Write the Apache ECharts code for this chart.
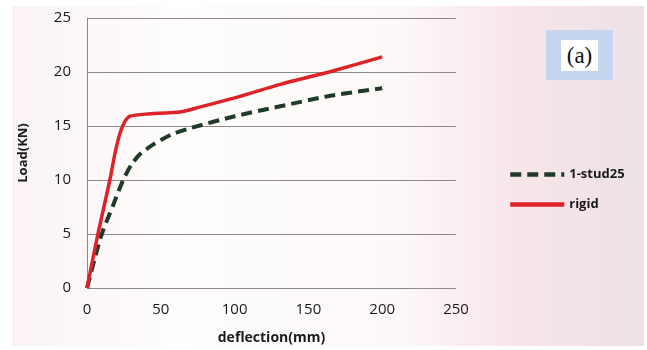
<!DOCTYPE html>
<html>
<head>
<meta charset="utf-8">
<script src="https://cdn.jsdelivr.net/npm/echarts@6/dist/echarts.min.js"></script>
<style>
html,body{margin:0;padding:0;background:#ffffff;}
#bg{position:absolute;left:12px;top:6px;width:632px;height:340px;
background:linear-gradient(90deg,#fbf3f4 0%,#fefcfc 25%,#fdf9f9 60%,#f7e5e9 80%,#ece2e6 100%);}
#chart{position:absolute;left:0;top:0;width:647px;height:350px;}
#lab{position:absolute;left:546px;top:30px;width:67px;height:50px;background:#c3d6ee;}
#lab div{position:absolute;left:15px;top:10px;width:37px;height:31px;background:#fff;
font-family:"Liberation Serif",serif;font-size:23px;line-height:31px;text-align:center;color:#111;}
</style>
</head>
<body>
<div id="bg"></div>
<div id="chart"></div>
<div id="lab"><div>(a)</div></div>
<script>
const studX = [0, 5, 10, 17.5, 24.5, 30, 36, 45, 57, 70, 100, 130, 165, 200];
const studY = [0, 2.6, 5, 7.6, 10, 11.4, 12.4, 13.3, 14.2, 14.8, 15.9, 16.8, 17.8, 18.5];
const rigidX = [0, 7.4, 15.5, 19, 22.5, 26, 29, 40, 63, 75, 100, 132, 164, 200];
const rigidY = [0, 5, 10, 12.5, 14.4, 15.5, 15.9, 16.1, 16.3, 16.7, 17.6, 18.9, 20.0, 21.4];
const xTicks = [0, 50, 100, 150, 200, 250];
const yTicks = [0, 5, 10, 15, 20, 25];

const pair = (xs, ys) => xs.map((x, i) => [x, ys[i]]);
const chart = echarts.init(document.getElementById('chart'), null, {renderer: 'canvas'});
const font = '"Open Sans", sans-serif';
chart.setOption({
  backgroundColor: 'transparent',
  animation: false,
  grid: {left: 87, right: 191, top: 18, bottom: 60},
  xAxis: {
    type: 'value', min: xTicks[0], max: xTicks[xTicks.length - 1], interval: 50,
    name: 'deflection(mm)', nameLocation: 'middle', nameGap: 43,
    nameTextStyle: {fontFamily: font, fontWeight: 'bold', fontSize: 14, color: '#1a1a1a'},
    axisLine: {show: false}, axisTick: {show: false}, splitLine: {show: false},
    axisLabel: {fontFamily: font, fontSize: 15, color: '#1a1a1a', margin: 14}
  },
  yAxis: {
    type: 'value', min: yTicks[0], max: yTicks[yTicks.length - 1], interval: 5,
    name: 'Load(KN)', nameLocation: 'middle', nameGap: 57, nameRotate: 90,
    nameTextStyle: {fontFamily: font, fontWeight: 'bold', fontSize: 13, color: '#1a1a1a'},
    axisLine: {show: true, lineStyle: {color: '#8a8a8a', width: 1}}, axisTick: {show: false},
    splitLine: {lineStyle: {color: '#8f8a8a', width: 1}},
    axisLabel: {fontFamily: font, fontSize: 15, color: '#1a1a1a', margin: 16}
  },
  legend: {
    orient: 'vertical', left: 503, top: 163, itemGap: 17, itemWidth: 54, itemHeight: 14,
    itemStyle: {opacity: 0},
    lineStyle: {width: 4.5},
    textStyle: {fontFamily: font, fontWeight: 'bold', fontSize: 13, color: '#1a1a1a'},
    data: ['1-stud25', 'rigid']
  },
  series: [
    {name: '1-stud25', type: 'line', data: pair(studX, studY), smooth: 0.25, symbol: 'none',
     lineStyle: {color: '#1f3a29', width: 4, type: [11, 6]}, itemStyle: {color: '#1f3a29'}},
    {name: 'rigid', type: 'line', data: pair(rigidX, rigidY), smooth: 0.2, symbol: 'none',
     lineStyle: {color: '#dd2228', width: 3.5}, itemStyle: {color: '#dd2228'}}
  ]
});
</script>
</body>
</html>
